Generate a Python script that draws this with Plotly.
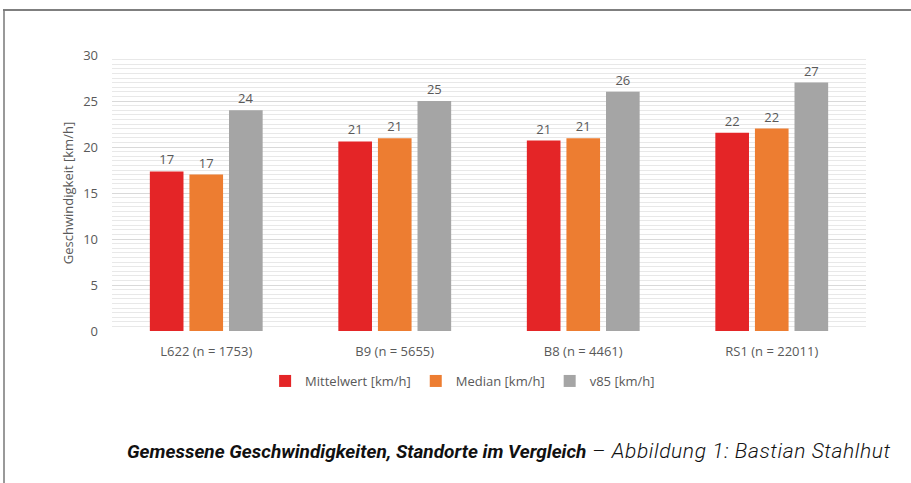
import plotly.graph_objects as go

categories = ["L622 (n = 1753)", "B9 (n = 5655)", "B8 (n = 4461)", "RS1 (n = 22011)"]
mittelwert = [17.35, 20.6, 20.7, 21.55]
median = [17.0, 20.95, 20.95, 22.0]
v85 = [24.0, 25.0, 26.0, 27.0]
series_names = ["Mittelwert [km/h]", "Median [km/h]", "v85 [km/h]"]
colors = ["#E42527", "#ED7D31", "#A5A5A5"]
y_ticks = [0, 5, 10, 15, 20, 25, 30]

W, H = 911, 483
ml, mr, mt, mb = 112, 45, 55, 152
pw, ph = W - ml - mr, H - mt - mb

def px_x(x):
    return (x - ml) / pw

def px_y(y):
    return (H - mb - y) / ph

TXT = "#595959"
fig = go.Figure()
for name, vals, col in zip(series_names, [mittelwert, median, v85], colors):
    fig.add_trace(go.Bar(
        x=categories, y=vals, name=name, marker=dict(color=col, line=dict(width=0)),
        texttemplate="%{y:.0f}", textposition="outside",
        textfont=dict(family="Open Sans", size=13, color=TXT),
        cliponaxis=False,
    ))

fig.update_layout(
    width=W, height=H,
    margin=dict(l=ml, r=mr, t=mt, b=mb, autoexpand=False),
    paper_bgcolor="white", plot_bgcolor="white",
    barmode="group", bargap=0.37, bargroupgap=0.15,
    font=dict(family="Open Sans", size=13, color=TXT),
    showlegend=True,
    legend=dict(orientation="h", x=0.465, xanchor="center", y=px_y(381), yanchor="middle",
                font=dict(family="Open Sans", size=13, color=TXT),
                itemwidth=30, traceorder="normal", itemclick=False),
    xaxis=dict(showgrid=False, showline=False, ticks="", ticklabelstandoff=11,
               tickfont=dict(size=13, color=TXT)),
    yaxis=dict(range=[0, 30], tickvals=y_ticks, showline=False, zeroline=False,
               gridcolor="#D9D9D9", gridwidth=1,
               minor=dict(dtick=0.5, showgrid=True, gridcolor="#E8E8E8", gridwidth=1),
               title=dict(text="Geschwindigkeit [km/h]", font=dict(size=13, color=TXT), standoff=6),
               tickfont=dict(size=13, color=TXT), ticklabelstandoff=13),
    shapes=[
        dict(type="line", xref="paper", yref="paper", x0=px_x(3), x1=px_x(911), y0=px_y(10), y1=px_y(10),
             line=dict(color="#555555", width=1.5)),
        dict(type="line", xref="paper", yref="paper", x0=px_x(4), x1=px_x(4), y0=px_y(10), y1=px_y(483),
             line=dict(color="#777777", width=1.5)),
    ],
    annotations=[
        dict(xref="paper", yref="paper", x=px_x(893), y=px_y(451), xanchor="right", yanchor="middle",
             showarrow=False,
             text="<b><i>Gemessene Geschwindigkeiten, Standorte im Vergleich</i></b>"
                  "<span style='font-weight:300;font-size:21px;letter-spacing:0.6px'><i> – Abbildung 1: Bastian Stahlhut</i></span>",
             font=dict(family="Roboto", size=19, color="#111111")),
    ],
)

fig.write_html("out.html", config={"displayModeBar": False},
               post_script="document.body.style.margin='0';document.body.style.overflow='hidden';")
